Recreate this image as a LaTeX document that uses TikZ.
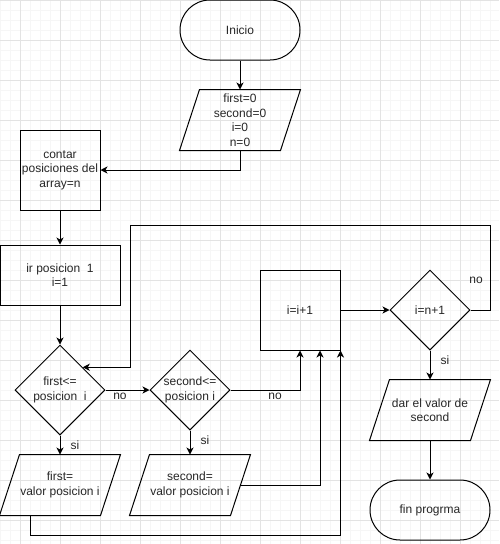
\documentclass[tikz,border=0pt]{standalone}
\usepackage{fontspec}
\setmainfont{Liberation Sans}
\usetikzlibrary{arrows.meta,shapes.geometric}

\begin{document}
\begin{tikzpicture}[x=1pt, y=-1pt, >={Stealth[length=7pt,width=7pt,inset=2pt]}, line width=1pt,
        every node/.style={font=\fontsize{12}{14.5}\selectfont, align=center, inner sep=0pt, text=black!85},
        terminal/.style={draw, rectangle, rounded corners=30pt, minimum width=120pt, minimum height=60pt},
        proceso/.style={draw, rectangle, minimum width=80pt, minimum height=80pt},
        decision/.style={draw, diamond, aspect=1, minimum width=#1, minimum height=#1},
        entrada/.style={minimum width=100pt, minimum height=60pt}]
                \useasboundingbox (0,0) rectangle (499,544);

                % The grid
                \foreach \x in {0,10,...,490} \draw[gray!7, line width=0.7pt] (\x,0) -- (\x,544);
                \foreach \y in {0,10,...,540} \draw[gray!7, line width=0.7pt] (0,\y) -- (499,\y);
                \foreach \x in {20,60,...,480} \draw[gray!22, line width=0.8pt] (\x,0) -- (\x,544);
                \foreach \y in {0,40,...,520} \draw[gray!22, line width=0.8pt] (0,\y) -- (499,\y);

                % nodes
                \node[terminal] (inicio) at (240,30) {Inicio};
                \node[entrada] (datos) at (240,120) {first=0\\second=0\\i=0\\n=0};
                \node[proceso] (contar) at (60,170) {contar\\posiciones del\\array=n};
                \node[proceso, minimum width=120pt, minimum height=60pt] (irpos) at (60,275) {ir posicion\ \ 1\\i=1};
                \node[decision=90pt] (condfirst) at (60,390) {first<=\\posicion\ \ i};
                \node[decision=80pt] (condsecond) at (190,390) {second<=\\posicion i};
                \node[entrada] (pfirst) at (60,485) {first=\\valor posicion i};
                \node[entrada] (psecond) at (190,485) {second=\\valor posicion i};
                \node[proceso] (incr) at (300,310) {i=i+1};
                \node[decision=80pt] (condfin) at (430,310) {i=n+1};
                \node[entrada] (salida) at (430,410) {dar el valor de\\second};
                \node[terminal] (fin) at (430,510) {fin progrma};

                % parallelograms
                \foreach \n in {datos,pfirst,psecond,salida}
                    \draw ([xshift=10pt]\n.north west) -- ([xshift=10pt]\n.north east)
                        -- ([xshift=-10pt]\n.south east) -- ([xshift=-10pt]\n.south west) -- cycle;

                % arrows
                \draw[->] (inicio) -- (datos);
                \draw[->] (datos.south) |- (contar.east);
                \draw[->] (contar) -- (irpos);
                \draw[->] (irpos) -- (condfirst);
                \draw[->] (condfirst) -- (condsecond);
                \node (nofirst) at (120,396) {no};
                \draw[->] (condfirst) -- (pfirst);
                \node (sifirst) at (75,445) {si};
                \draw[->] (condsecond) -- (psecond);
                \node (sisecond) at (205,440) {si};
                \draw[->] (condsecond.east) -| (incr.south);
                \node (nosecond) at (275,396) {no};
                \draw[->] (psecond.east) -| ([xshift=20pt]incr.south);
                \draw[->] ([xshift=-30pt]pfirst.south) -- ++(0,20) -| (incr.south east);
                \draw[->] (incr) -- (condfin);

                % loop back
                \coordinate (retorno) at (130,225);
                \draw[->] (condfin.east) -- ++(20,0) |- (retorno) |- (condfirst.north east);
                \node (nofin) at (476,280) {no};

                \draw[->] (condfin) -- (salida);
                \node (sifin) at (445,360) {si};
                \draw[->] (salida) -- (fin);
            \end{tikzpicture}
\end{document}
